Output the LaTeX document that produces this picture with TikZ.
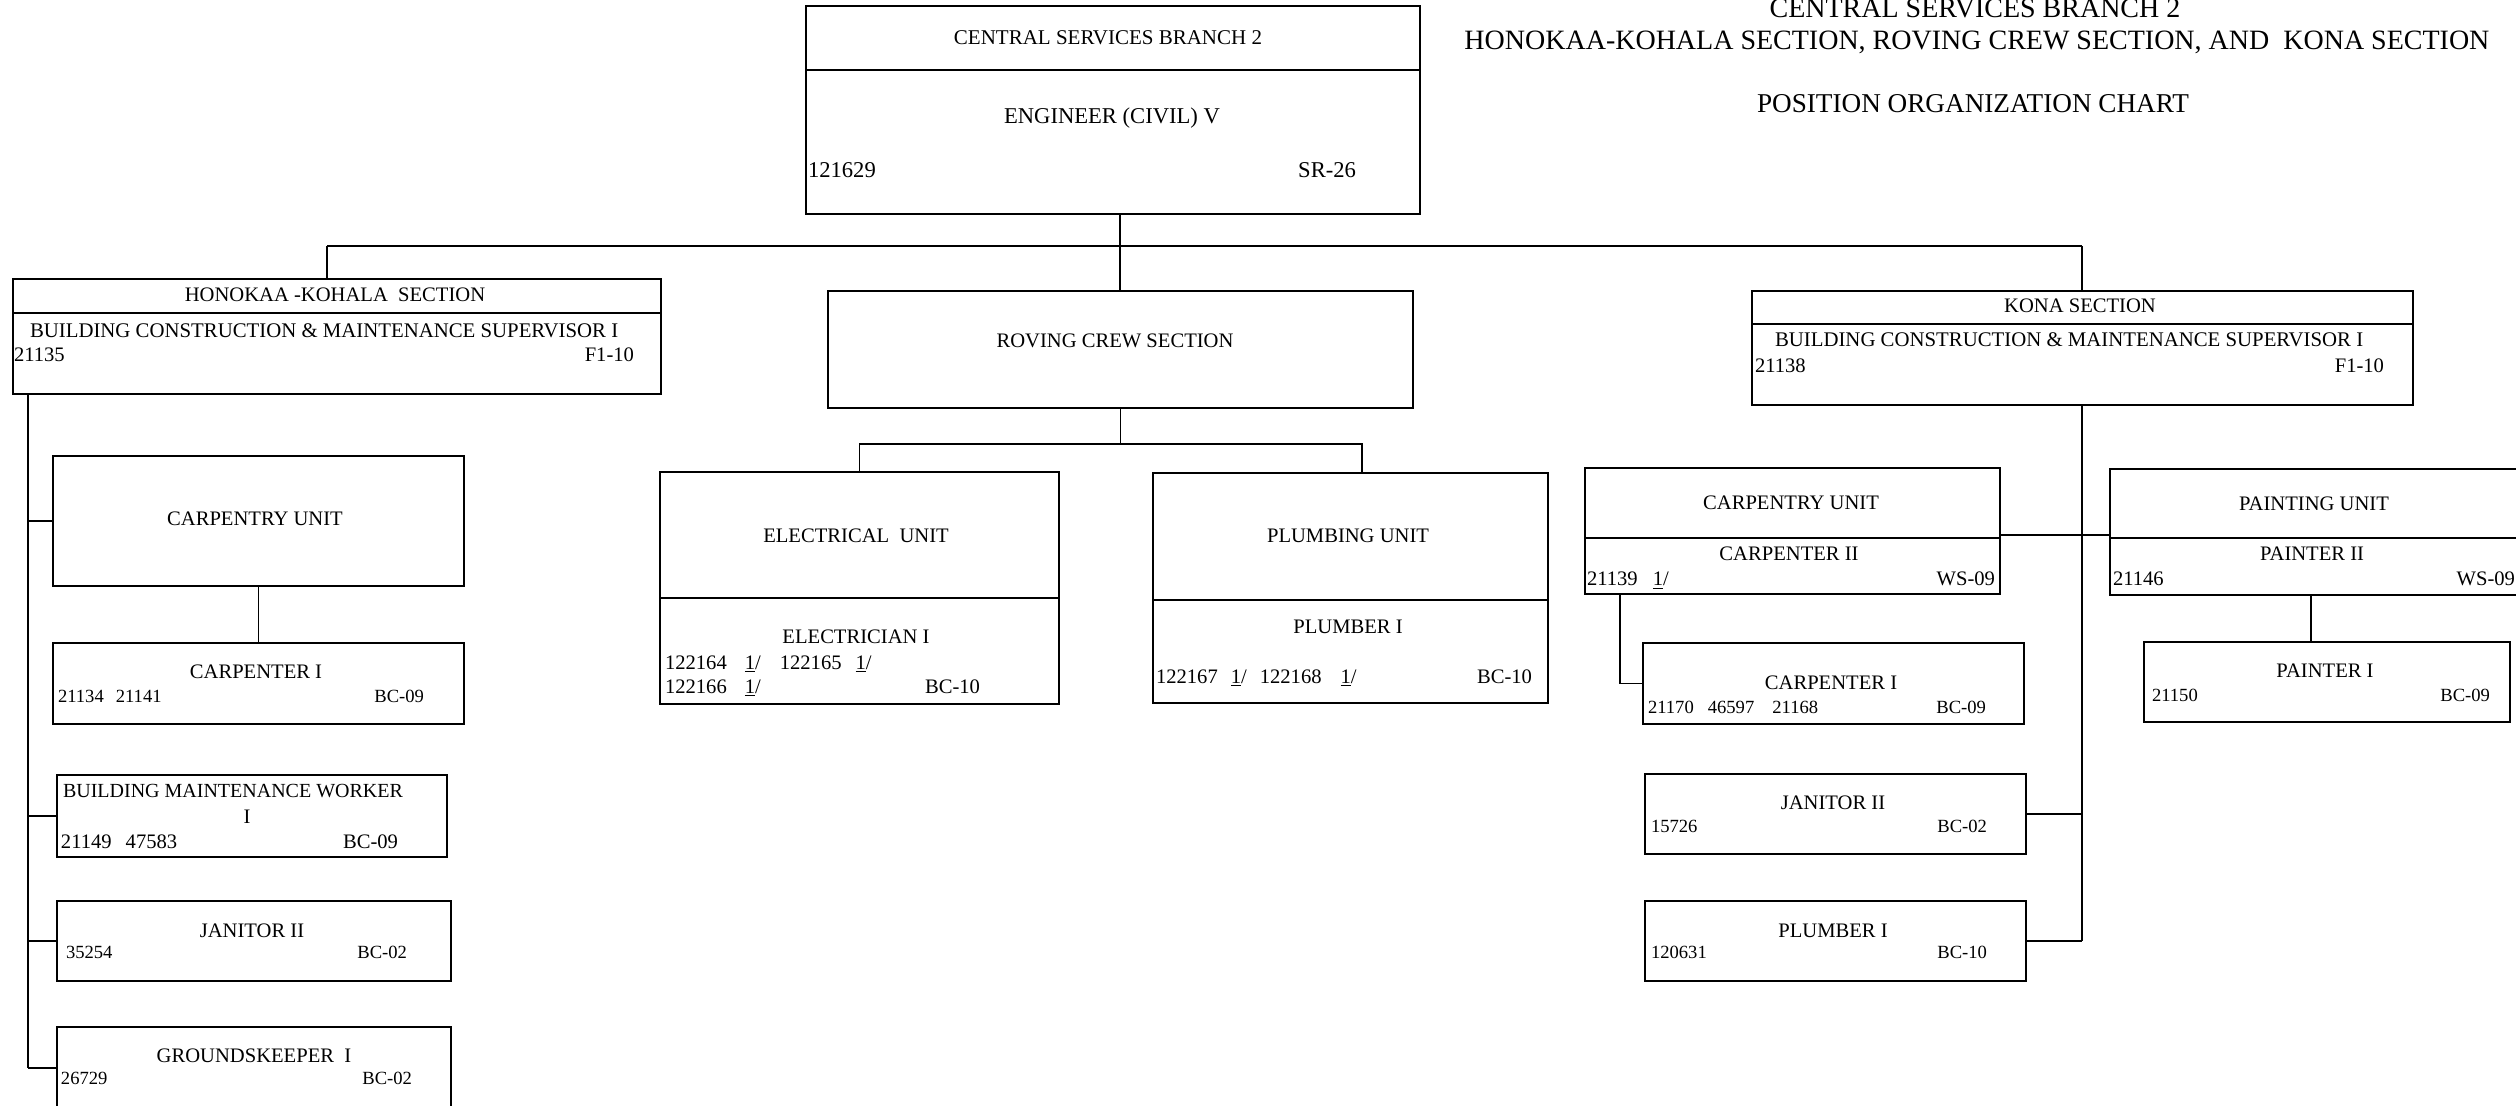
\documentclass[tikz,border=0pt]{standalone}
\usepackage{fontspec}
\setmainfont{Liberation Serif}
\newcommand\fA{\fontsize{10.3}{12}\selectfont}
\newcommand\fS{\fontsize{9.3}{11}\selectfont}
\newcommand\fT{\fontsize{11.3}{13}\selectfont}
\newcommand\fH{\fontsize{14}{16}\selectfont}
\newcommand\fP{\fontsize{13.6}{15}\selectfont}
\newcommand\fB{\fontsize{10.4}{12}\selectfont}
\newcommand\obx[5]{\node[obox, minimum width={(#4-(#2))*0.5pt}, minimum height={(#5-(#3))*0.5pt}] (#1) at ({(#2+#4)/2},{(#3+#5)/2}) {};}
\newcommand\uone{\underline{1}/}
\tikzset{
  obox/.style={draw, rectangle, line width=0.75pt, inner sep=0pt, outer sep=0pt},
  conn/.style={line width=0.75pt},
  txt/.style={inner sep=0pt, outer sep=0pt, font=\fA},
}
\begin{document}
\begin{tikzpicture}[x=0.5pt,y=-0.5pt]
\useasboundingbox (0,0) rectangle (2516,1106);
\fill[white] (0,0) rectangle (2516,1106);
\clip (0,0) rectangle (2516,1106);

% ---------- boxes ----------
\obx{csbh}{806}{6}{1420}{70}
\obx{eng}{806}{70}{1420}{214}
\obx{hkh}{13}{279}{661}{313}
\obx{hkb}{13}{313}{661}{394}
\obx{cuL}{53}{456}{464}{586}
\obx{cpL}{53}{643}{464}{724}
\obx{bmw}{57}{775}{447}{857}
\obx{jnL}{57}{901}{451}{981}
\obx{gkL}{57}{1027}{451}{1109}
\obx{rov}{828}{291}{1413}{408}
\obx{elh}{660}{472}{1059}{598}
\obx{elb}{660}{598}{1059}{704}
\obx{plh}{1153}{473}{1548}{600}
\obx{plb}{1153}{600}{1548}{703}
\obx{knh}{1752}{291}{2413}{324}
\obx{knb}{1752}{324}{2413}{405}
\obx{kch}{1585}{468}{2000}{538}
\obx{kcb}{1585}{538}{2000}{594}
\obx{kc1}{1643}{643}{2024}{724}
\obx{jk}{1645}{774}{2026}{854}
\obx{pk}{1645}{901}{2026}{981}
\obx{pnh}{2110}{469}{2530}{538}
\obx{pnb}{2110}{538}{2530}{595}
\obx{pt1}{2144}{642}{2510}{722}

% ---------- connectors ----------
\coordinate (bar) at (1120,246);
\coordinate (barL) at (327,246);
\coordinate (barR) at (2082,246);
\draw[conn] (bar |- eng.south) -- (bar);
\draw[conn] (barL) -- (barR);
\draw[conn] (barL) -- (barL |- hkh.north);
\draw[conn] (bar) -- (bar |- rov.north);
\draw[conn] (barR) -- (barR |- knh.north);

\coordinate (hkx) at (28,1068);
\draw[conn] (hkx |- hkb.south) -- (hkx);
\draw[conn] (hkx |- cuL.west) -- (cuL.west);
\draw[conn] (hkx |- bmw.west) -- (bmw.west);
\draw[conn] (hkx |- jnL.west) -- (jnL.west);
\draw[conn] (hkx |- gkL.west) -- (gkL.west);
\draw[conn] (cuL.south) -- (cpL.north);

\coordinate (rvR) at (1362,444);
\draw[conn] (rov.south) -- (rov.south |- rvR);
\draw[conn] (elh.north) |- (rvR) -- (rvR |- plh.north);

\coordinate (kx) at (2082,941);
\draw[conn] (kx |- knb.south) -- (kx);
\draw[conn] (jk.east) -- (jk.east -| kx);
\draw[conn] (pk.east) -- (pk.east -| kx);
\coordinate (hy) at (2000,535);
\draw[conn] (hy -| kch.east) -- (hy -| pnh.west);
\coordinate (kcx) at (1620,683);
\draw[conn] (kcx |- kcb.south) |- (kc1.west);
\coordinate (pcx) at (2311,642);
\draw[conn] (pcx |- pnb.south) -- (pcx |- pt1.north);

% ---------- title ----------
\node[txt, font=\fH, anchor=base] (ti1) at (1975,18) {CENTRAL SERVICES BRANCH 2};
\node[txt, font=\fH, anchor=base] (ti2) at (1977,50) {HONOKAA-KOHALA SECTION, ROVING CREW SECTION, AND\ \ KONA SECTION};
\node[txt, font=\fP, anchor=base] (ti3) at (1973,113) {POSITION ORGANIZATION CHART};

% ---------- top box ----------
\node[txt, font=\fontsize{10.5}{12}\selectfont, anchor=base] (t1) at (1108,45) {CENTRAL SERVICES BRANCH 2};
\node[txt, font=\fT, anchor=base] (t2) at (1112,124) {ENGINEER (CIVIL) V};
\node[txt, font=\fT, anchor=base west] (t3) at (808,178) {121629};
\node[txt, font=\fT, anchor=base east] (t4) at (1356,178) {SR-26};

% ---------- Honokaa-Kohala ----------
\node[txt, anchor=base] (h1) at (335,302) {HONOKAA -KOHALA\ \ SECTION};
\node[txt, font=\fB, anchor=base west] (h2) at (30,338) {BUILDING CONSTRUCTION \& MAINTENANCE SUPERVISOR I};
\node[txt, anchor=base west] (h3) at (14,362) {21135};
\node[txt, anchor=base east] (h4) at (634,362) {F1-10};

\node[txt, anchor=base] (c1) at (255,526) {CARPENTRY UNIT};
\node[txt, anchor=base] (c2) at (256,678) {CARPENTER I};
\node[txt, font=\fS, anchor=base west] (c3) at (58,702) {21134\hspace{6pt}21141};
\node[txt, font=\fS, anchor=base east] (c4) at (424,702) {BC-09};

\node[txt, font=\fontsize{10}{12}\selectfont, anchor=base west] (b1) at (63,797) {BUILDING MAINTENANCE WORKER};
\node[txt, anchor=base] (b2) at (247,823) {I};
\node[txt, anchor=base west] (b3) at (61,848) {21149\hspace{7pt}47583};
\node[txt, anchor=base east] (b4) at (398,848) {BC-09};

\node[txt, anchor=base] (j1) at (252,937) {JANITOR II};
\node[txt, font=\fS, anchor=base west] (j2) at (66,958) {35254};
\node[txt, font=\fS, anchor=base east] (j3) at (407,958) {BC-02};

\node[txt, anchor=base] (g1) at (254,1062) {GROUNDSKEEPER\ \ I};
\node[txt, font=\fS, anchor=base west] (g2) at (61,1084) {26729};
\node[txt, font=\fS, anchor=base east] (g3) at (412,1084) {BC-02};

% ---------- Roving crew ----------
\node[txt, anchor=base] (r1) at (1115,348) {ROVING CREW SECTION};
\node[txt, anchor=base] (e1) at (856,543) {ELECTRICAL\ \ UNIT};
\node[txt, anchor=base] (e2) at (856,643) {ELECTRICIAN I};
\node[txt, anchor=base west] (e3) at (665,669) {122164\hspace{9pt}\uone\hspace{9.5pt}122165\hspace{7pt}\uone};
\node[txt, anchor=base west] (e4) at (665,693) {122166\hspace{9pt}\uone};
\node[txt, anchor=base east] (e5) at (980,693) {BC-10};

\node[txt, anchor=base] (p1) at (1348,543) {PLUMBING UNIT};
\node[txt, anchor=base] (p2) at (1348,633) {PLUMBER I};
\node[txt, anchor=base west] (p3) at (1156,683) {122167\hspace{6.5pt}\uone\hspace{6.5pt}122168\hspace{9.5pt}\uone};
\node[txt, anchor=base east] (p4) at (1532,683) {BC-10};

% ---------- Kona ----------
\node[txt, anchor=base] (k1) at (2080,313) {KONA SECTION};
\node[txt, font=\fB, anchor=base west] (k2) at (1775,347) {BUILDING CONSTRUCTION \& MAINTENANCE SUPERVISOR I};
\node[txt, anchor=base west] (k3) at (1755,373) {21138};
\node[txt, anchor=base east] (k4) at (2384,373) {F1-10};

\node[txt, anchor=base] (kc1t) at (1791,510) {CARPENTRY UNIT};
\node[txt, anchor=base] (kc2t) at (1789,561) {CARPENTER II};
\node[txt, anchor=base west] (kc3t) at (1587,586) {21139\hspace{7.5pt}\uone};
\node[txt, anchor=base east] (kc4t) at (1995,586) {WS-09};

\node[txt, anchor=base] (kp1) at (1831,689) {CARPENTER I};
\node[txt, font=\fS, anchor=base west] (kp2) at (1648,713) {21170\hspace{7pt}46597\hspace{9pt}21168};
\node[txt, font=\fS, anchor=base east] (kp3) at (1986,713) {BC-09};

\node[txt, anchor=base] (kj1) at (1833,809) {JANITOR II};
\node[txt, font=\fS, anchor=base west] (kj2) at (1651,832) {15726};
\node[txt, font=\fS, anchor=base east] (kj3) at (1987,832) {BC-02};

\node[txt, anchor=base] (kl1) at (1833,937) {PLUMBER I};
\node[txt, font=\fS, anchor=base west] (kl2) at (1651,958) {120631};
\node[txt, font=\fS, anchor=base east] (kl3) at (1987,958) {BC-10};

\node[txt, anchor=base] (pa1) at (2314,511) {PAINTING UNIT};
\node[txt, anchor=base] (pa2) at (2312,561) {PAINTER II};
\node[txt, anchor=base west] (pa3) at (2113,586) {21146};
\node[txt, anchor=base east] (pa4) at (2515,586) {WS-09};

\node[txt, anchor=base] (pi1) at (2325,677) {PAINTER I};
\node[txt, font=\fS, anchor=base west] (pi2) at (2152,701) {21150};
\node[txt, font=\fS, anchor=base east] (pi3) at (2490,701) {BC-09};
\end{tikzpicture}
\end{document}
